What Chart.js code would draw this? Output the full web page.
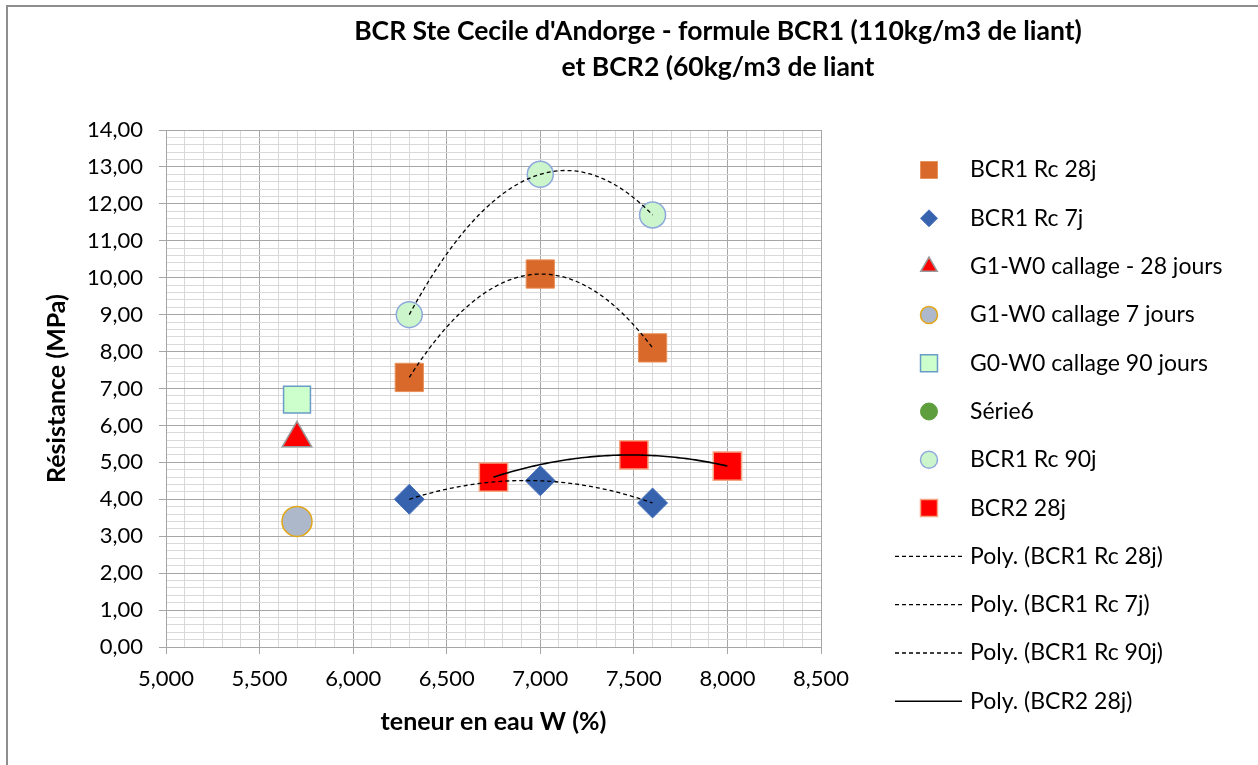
<!DOCTYPE html>
<html lang="fr">
<head>
<meta charset="utf-8">
<title>BCR Ste Cecile d'Andorge</title>
<script src="https://cdn.jsdelivr.net/npm/chart.js@4.4.1/dist/chart.umd.min.js"></script>
<style>
  html, body { margin: 0; padding: 0; background: #fff; overflow: hidden; }
  #cadre { position: absolute; left: 6px; top: 5px; width: 1300px; height: 800px; border: 2px solid #8e8e8e; box-sizing: border-box; }
  #graphe { position: absolute; left: 0; top: 0; }
</style>
</head>
<body>
<div id="cadre"></div>
<canvas id="graphe" width="1258" height="765"></canvas>
<script>
// Résistance en compression des BCR en fonction de la teneur en eau

const titre = ["BCR Ste Cecile d'Andorge - formule BCR1 (110kg/m3 de liant)", "et BCR2 (60kg/m3 de liant"];

// teneurs en eau W (%)
const wBcr1 = [6.3, 7.0, 7.6];
const wBcr2 = [6.75, 7.5, 8.0];
const wCallage = [5.7];

// résistances (MPa)
const bcr1Rc28 = [7.3, 10.1, 8.1];
const bcr1Rc7 = [4.0, 4.5, 3.9];
const bcr1Rc90 = [9.0, 12.8, 11.7];
const bcr2Rc28 = [4.6, 5.2, 4.9];
const g1w0Rc28 = [5.65];
const g1w0Rc7 = [3.4];
const g0w0Rc90 = [6.7];
const serie6 = [];

// axes
const xMin = 5, xMax = 8.5, xPas = 0.1;
const yMin = 0, yMax = 14, yPas = 0.2;

const pts = (xs, ys) => ys.map((y, i) => ({ x: xs[i], y: y }));

// courbe de tendance polynomiale d'ordre 2 (moindres carrés)
function ajustPoly2(xs, ys) {
  const s = [0, 0, 0, 0, 0], t = [0, 0, 0];
  xs.forEach((x, i) => {
    for (let k = 0; k < 5; k++) s[k] += Math.pow(x, k);
    for (let k = 0; k < 3; k++) t[k] += ys[i] * Math.pow(x, k);
  });
  const m = [[s[0], s[1], s[2], t[0]], [s[1], s[2], s[3], t[1]], [s[2], s[3], s[4], t[2]]];
  for (let c = 0; c < 3; c++) {
    let p = c;
    for (let r = c + 1; r < 3; r++) if (Math.abs(m[r][c]) > Math.abs(m[p][c])) p = r;
    [m[c], m[p]] = [m[p], m[c]];
    for (let r = 0; r < 3; r++) {
      if (r === c) continue;
      const f = m[r][c] / m[c][c];
      for (let k = c; k < 4; k++) m[r][k] -= f * m[c][k];
    }
  }
  const a = [m[0][3] / m[0][0], m[1][3] / m[1][1], m[2][3] / m[2][2]];
  return x => a[0] + a[1] * x + a[2] * x * x;
}

function courbe(xs, ys) {
  const f = ajustPoly2(xs, ys);
  const a = Math.min(...xs), b = Math.max(...xs), n = 80;
  return Array.from({ length: n + 1 }, (_, i) => {
    const x = a + (b - a) * i / n;
    return { x: x, y: f(x) };
  });
}

const poly = (label, xs, ys, dash) => ({
  label: label,
  data: courbe(xs, ys),
  showLine: true,
  borderColor: "#000",
  borderWidth: dash.length ? 1.3 : 1.6,
  borderDash: dash,
  pointRadius: 0,
  pointHoverRadius: 0,
  fill: false,
  order: 0
});

const datasets = [
  { label: "BCR1 Rc 28j", data: pts(wBcr1, bcr1Rc28), pointStyle: "rect", pointRadius: 20,
    backgroundColor: "#D8692A", borderColor: "#E8925C", borderWidth: 1, rayonLegende: 12, order: 1 },
  { label: "BCR1 Rc 7j", data: pts(wBcr1, bcr1Rc7), pointStyle: "rectRot", pointRadius: 15,
    backgroundColor: "#3762AE", borderColor: "#4A74BE", borderWidth: 1, rayonLegende: 8.5, order: 1 },
  { label: "G1-W0 callage - 28 jours", data: pts(wCallage, g1w0Rc28), pointStyle: "triangle", pointRadius: 17,
    backgroundColor: "#FF0000", borderColor: "#9A9A9A", borderWidth: 1.5, rayonLegende: 9.5, order: 1 },
  { label: "G1-W0 callage 7 jours", data: pts(wCallage, g1w0Rc7), pointStyle: "circle", pointRadius: 15,
    backgroundColor: "#ADB9CA", borderColor: "#E3A619", borderWidth: 1.5, rayonLegende: 8.5, order: 1 },
  { label: "G0-W0 callage 90 jours", data: pts(wCallage, g0w0Rc90), pointStyle: "rect", pointRadius: 19,
    backgroundColor: "#CCFFCC", borderColor: "#6A9CC8", borderWidth: 1.5, rayonLegende: 12, order: 1 },
  { label: "Série6", data: pts(wCallage, serie6), pointStyle: "circle", pointRadius: 10,
    backgroundColor: "#5E9E3C", borderColor: "#5E9E3C", borderWidth: 1, rayonLegende: 8.5, order: 1 },
  { label: "BCR1 Rc 90j", data: pts(wBcr1, bcr1Rc90), pointStyle: "circle", pointRadius: 13,
    backgroundColor: "#CCF5CC", borderColor: "#8EA9DB", borderWidth: 1.5, rayonLegende: 8.5, order: 1 },
  { label: "BCR2 28j", data: pts(wBcr2, bcr2Rc28), pointStyle: "rect", pointRadius: 20,
    backgroundColor: "#FF0000", borderColor: "#F4A582", borderWidth: 1.5, rayonLegende: 12, order: 1 },
  poly("Poly. (BCR1 Rc 28j)", wBcr1, bcr1Rc28, [4, 3]),
  poly("Poly. (BCR1 Rc 7j)", wBcr1, bcr1Rc7, [4, 3]),
  poly("Poly. (BCR1 Rc 90j)", wBcr1, bcr1Rc90, [4, 3]),
  poly("Poly. (BCR2 28j)", wBcr2, bcr2Rc28, [])
];

Chart.defaults.font.family = "Lato, 'DejaVu Sans', sans-serif";
Chart.defaults.font.size = 22;
Chart.defaults.color = "#000";

const majeur = "#A6A6A6", mineur = "#D9D9D9";
const grille = {
  color: c => (c.index % 5 === 0 ? majeur : mineur),
  tickColor: c => (c.index % 5 === 0 ? majeur : "rgba(0,0,0,0)"),
  lineWidth: 1,
  tickLength: 7
};

// titre du graphe sur deux lignes
const titrePlugin = {
  id: "titre",
  afterDraw(chart) {
    const ctx = chart.ctx;
    ctx.save();
    ctx.font = "bold 26.5px Lato";
    ctx.fillStyle = "#000";
    ctx.textAlign = "center";
    ctx.textBaseline = "middle";
    ctx.fillText(titre[0], 718, 31);
    ctx.fillText(titre[1], 718, 67);
    ctx.restore();
  }
};

// légende à droite : marqueurs puis traits des courbes de tendance
const legendePlugin = {
  id: "legende",
  afterDraw(chart) {
    const ctx = chart.ctx;
    const xm = chart.chartArea.right + 108;
    ctx.save();
    chart.data.datasets.forEach((ds, i) => {
      const y = 170 + i * 48.3;
      if (ds.showLine) {
        ctx.beginPath();
        ctx.setLineDash(ds.borderDash);
        ctx.lineWidth = ds.borderWidth;
        ctx.strokeStyle = ds.borderColor;
        ctx.moveTo(xm - 34, y);
        ctx.lineTo(xm + 33, y);
        ctx.stroke();
        ctx.setLineDash([]);
      } else {
        ctx.fillStyle = ds.backgroundColor;
        ctx.strokeStyle = ds.borderColor;
        ctx.lineWidth = ds.borderWidth;
        Chart.helpers.drawPoint(ctx, {
          pointStyle: ds.pointStyle, rotation: 0, radius: ds.rayonLegende, borderWidth: ds.borderWidth
        }, xm, y);
      }
      ctx.font = "23px Lato";
      ctx.fillStyle = "#000";
      ctx.textAlign = "left";
      ctx.textBaseline = "middle";
      ctx.fillText(ds.label, xm + 41, y);
    });
    ctx.restore();
  }
};

const chart = new Chart(document.getElementById("graphe"), {
  type: "scatter",
  data: { datasets: datasets },
  options: {
    responsive: false,
    animation: false,
    layout: { padding: { top: 130, right: 437, bottom: 0, left: 0 } },
    scales: {
      x: {
        type: "linear",
        min: xMin,
        max: xMax,
        ticks: {
          stepSize: xPas,
          autoSkip: false,
          maxRotation: 0,
          padding: 12,
          callback: (v, i) => (i % 5 === 0 ? v.toFixed(3).replace(".", ",") : "")
        },
        grid: grille,
        border: { color: majeur, width: 1 },
        title: {
          display: true,
          text: "teneur en eau W (%)",
          font: { size: 25, weight: "bold" },
          padding: { top: 4, bottom: 28 }
        },
        afterFit: s => { s.height = 765 - 647; }
      },
      y: {
        type: "linear",
        min: yMin,
        max: yMax,
        ticks: {
          stepSize: yPas,
          autoSkip: false,
          padding: 16,
          callback: (v, i) => (i % 5 === 0 ? v.toFixed(2).replace(".", ",") : "")
        },
        grid: grille,
        border: { color: majeur, width: 1 },
        title: {
          display: true,
          text: "Résistance (MPa)",
          font: { size: 25, weight: "bold" },
          padding: { top: 42, bottom: 0 }
        },
        afterFit: s => { s.width = 166; }
      }
    },
    plugins: {
      legend: { display: false },
      tooltip: { enabled: false }
    }
  },
  plugins: [titrePlugin, legendePlugin]
});
</script>
</body>
</html>
